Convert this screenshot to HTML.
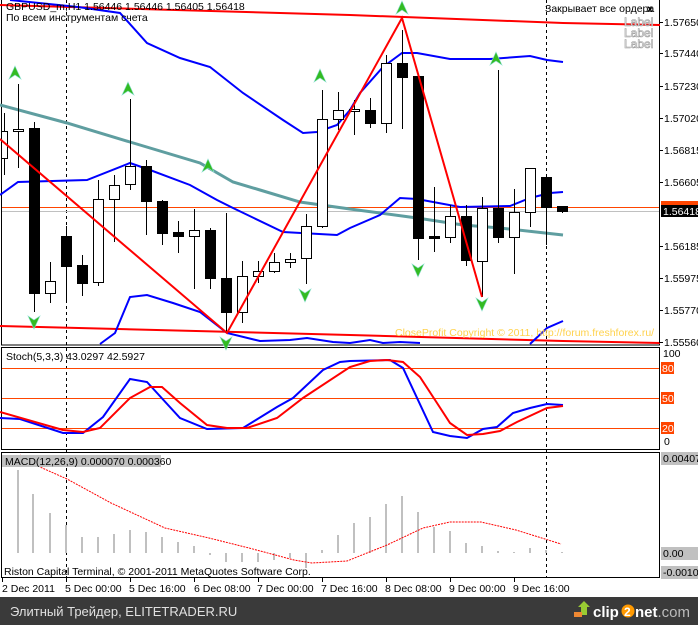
<!DOCTYPE html>
<html><head><meta charset="utf-8"><style>
html,body{margin:0;padding:0;background:#fff;}
svg{display:block;}
text{font-family:"Liberation Sans","DejaVu Sans",sans-serif;font-size:10.5px;}
</style></head><body>
<svg width="698" height="625" viewBox="0 0 698 625" xmlns="http://www.w3.org/2000/svg">
<rect x="0" y="0" width="698" height="625" fill="#fff"/>
<g fill="none" stroke="#000" stroke-width="1" shape-rendering="crispEdges">
<rect x="1.5" y="-1" width="658" height="346"/>
<rect x="1.5" y="347.5" width="658" height="102"/>
<rect x="1.5" y="452.5" width="658" height="125"/>
</g>
<g stroke="#000" stroke-dasharray="3,3" shape-rendering="crispEdges">
<line x1="66.5" y1="0" x2="66.5" y2="578"/>
<line x1="546.5" y1="0" x2="546.5" y2="578"/>
</g>
<line x1="2" y1="207.5" x2="659" y2="207.5" stroke="#ff4500" shape-rendering="crispEdges"/>
<line x1="2" y1="211.5" x2="659" y2="211.5" stroke="#c0c0c0" shape-rendering="crispEdges"/>

<polyline points="0,5 350,15 563,23 660,25" fill="none" stroke="#f00" stroke-width="2"/>
<polyline points="0,326 350,335 563,341 660,343" fill="none" stroke="#f00" stroke-width="2"/>

<polyline points="0,105 67,123 130,142 200,163 233,182 260,190 300,202 350,209 417,218 463,225 500,228 563,235" fill="none" stroke="#5f9ea0" stroke-width="3"/>

<polyline points="10,0 78,7 120,13 147,43 180,58 210,67 243,93 283,120 303,133 317,132 337,125 350,110 360,93 383,67 402,53 417,53 450,59 490,59 530,56 547,60 563,62" fill="none" stroke="#00f" stroke-width="2"/>
<polyline points="0,195 18,182 87,180 130,163 150,170 190,185 217,200 233,208 283,232 337,235 350,228 380,215 400,198 417,199 460,207 510,206 530,198 550,193 563,192" fill="none" stroke="#00f" stroke-width="2"/>
<polyline points="100,344 115,333 130,297 147,295 173,303 200,312 227,333 260,341 290,340 307,338 333,342 350,343 370,340 383,343 400,342 420,343" fill="none" stroke="#00f" stroke-width="2"/>
<polyline points="530,344 547,328 563,321" fill="none" stroke="#00f" stroke-width="2"/>

<g shape-rendering="crispEdges" stroke="#000" stroke-width="1">
<line x1="4.5" y1="113" x2="4.5" y2="175"/><rect x="1.5" y="131.5" width="6" height="27" fill="#fff"/>
<line x1="18.5" y1="84" x2="18.5" y2="168"/><rect x="13.5" y="129.5" width="10" height="2" fill="#fff"/>
<line x1="34.5" y1="122" x2="34.5" y2="312"/><rect x="29.5" y="128.5" width="10" height="165" fill="#000"/>
<line x1="50.5" y1="262" x2="50.5" y2="303"/><rect x="45.5" y="281.5" width="10" height="12" fill="#fff"/>
<line x1="66.5" y1="226" x2="66.5" y2="301"/><rect x="61.5" y="236.5" width="10" height="30" fill="#000"/>
<line x1="82.5" y1="255" x2="82.5" y2="296"/><rect x="77.5" y="265.5" width="10" height="18" fill="#000"/>
<line x1="98.5" y1="180" x2="98.5" y2="286"/><rect x="93.5" y="199.5" width="10" height="83" fill="#fff"/>
<line x1="114.5" y1="175" x2="114.5" y2="242"/><rect x="109.5" y="185.5" width="10" height="14" fill="#fff"/>
<line x1="130.5" y1="99" x2="130.5" y2="190"/><rect x="125.5" y="166.5" width="10" height="18" fill="#fff"/>
<line x1="146.5" y1="160" x2="146.5" y2="235"/><rect x="141.5" y="166.5" width="10" height="35" fill="#000"/>
<line x1="162.5" y1="200" x2="162.5" y2="245"/><rect x="157.5" y="201.5" width="10" height="32" fill="#000"/>
<line x1="178.5" y1="221" x2="178.5" y2="253"/><rect x="173.5" y="232.5" width="10" height="4" fill="#000"/>
<line x1="194.5" y1="209" x2="194.5" y2="289"/><rect x="189.5" y="230.5" width="10" height="6" fill="#fff"/>
<line x1="210.5" y1="228" x2="210.5" y2="289"/><rect x="205.5" y="230.5" width="10" height="48" fill="#000"/>
<line x1="226.5" y1="213" x2="226.5" y2="332"/><rect x="221.5" y="278.5" width="10" height="34" fill="#000"/>
<line x1="242.5" y1="261" x2="242.5" y2="323"/><rect x="237.5" y="276.5" width="10" height="36" fill="#fff"/>
<line x1="258.5" y1="261" x2="258.5" y2="283"/><rect x="253.5" y="271.5" width="10" height="5" fill="#fff"/>
<line x1="274.5" y1="253" x2="274.5" y2="273"/><rect x="269.5" y="262.5" width="10" height="9" fill="#fff"/>
<line x1="290.5" y1="253" x2="290.5" y2="268"/><rect x="285.5" y="259.5" width="10" height="3" fill="#fff"/>
<line x1="306.5" y1="214" x2="306.5" y2="284"/><rect x="301.5" y="226.5" width="10" height="32" fill="#fff"/>
<line x1="322.5" y1="90" x2="322.5" y2="228"/><rect x="317.5" y="119.5" width="10" height="107" fill="#fff"/>
<line x1="338.5" y1="92" x2="338.5" y2="130"/><rect x="333.5" y="110.5" width="10" height="9" fill="#fff"/>
<line x1="354.5" y1="100" x2="354.5" y2="135"/><rect x="349.5" y="109.5" width="10" height="2" fill="#fff"/>
<line x1="370.5" y1="98" x2="370.5" y2="128"/><rect x="365.5" y="110.5" width="10" height="13" fill="#000"/>
<line x1="386.5" y1="55" x2="386.5" y2="133"/><rect x="381.5" y="63.5" width="10" height="60" fill="#fff"/>
<line x1="402.5" y1="30" x2="402.5" y2="129"/><rect x="397.5" y="63.5" width="10" height="14" fill="#000"/>
<line x1="418.5" y1="76" x2="418.5" y2="260"/><rect x="413.5" y="76.5" width="10" height="162" fill="#000"/>
<line x1="434.5" y1="187" x2="434.5" y2="252"/><rect x="429.5" y="236.5" width="10" height="2" fill="#000"/>
<line x1="450.5" y1="205" x2="450.5" y2="243"/><rect x="445.5" y="216.5" width="10" height="21" fill="#fff"/>
<line x1="466.5" y1="205" x2="466.5" y2="266"/><rect x="461.5" y="216.5" width="10" height="44" fill="#000"/>
<line x1="482.5" y1="197" x2="482.5" y2="297"/><rect x="477.5" y="208.5" width="10" height="53" fill="#fff"/>
<line x1="498.5" y1="70" x2="498.5" y2="243"/><rect x="493.5" y="208.5" width="10" height="29" fill="#000"/>
<line x1="514.5" y1="189" x2="514.5" y2="274"/><rect x="509.5" y="212.5" width="10" height="25" fill="#fff"/>
<line x1="530.5" y1="168" x2="530.5" y2="227"/><rect x="525.5" y="168.5" width="10" height="44" fill="#fff"/>
<line x1="546.5" y1="177" x2="546.5" y2="245"/><rect x="541.5" y="177.5" width="10" height="30" fill="#000"/>
<line x1="562.5" y1="206" x2="562.5" y2="213"/><rect x="557.5" y="206.5" width="10" height="5" fill="#000"/>
</g>

<polyline points="0,139 227,333 402,18 482,297" fill="none" stroke="#f00" stroke-width="2"/>

<g fill="#33bb22" stroke="#88ddcc" stroke-width="0.6">
<path d="M15,66 l6,13 l-6,-4 l-6,4z"/>
<path d="M128,82 l6,13 l-6,-4 l-6,4z"/>
<path d="M208,159 l6,13 l-6,-4 l-6,4z"/>
<path d="M320,69 l6,13 l-6,-4 l-6,4z"/>
<path d="M402,1 l6,13 l-6,-4 l-6,4z"/>
<path d="M496,52 l6,13 l-6,-4 l-6,4z"/>
<path d="M34,329 l6,-13 l-6,4 l-6,-4z"/>
<path d="M226,350 l6,-13 l-6,4 l-6,-4z"/>
<path d="M305,302 l6,-13 l-6,4 l-6,-4z"/>
<path d="M418,277 l6,-13 l-6,4 l-6,-4z"/>
<path d="M482,311 l6,-13 l-6,4 l-6,-4z"/>
</g>

<text x="6" y="10">GBPUSD_m,H1  1.56446 1.56446 1.56405 1.56418</text>
<text x="6" y="21">По всем инструментам счета</text>
<text x="545" y="12">Закрывает все ордера</text>
<text x="647" y="12" font-weight="bold">x</text>
<g fill="#fff" stroke="#999" stroke-width="0.6"><text x="624" y="26" style="font-size:12px">Label</text><text x="624" y="37" style="font-size:12px">Label</text><text x="624" y="48" style="font-size:12px">Label</text></g>
<text x="395" y="336" fill="#ffd24d">CloseProfit Copyright © 2011, http://forum.freshforex.ru/</text>

<g shape-rendering="crispEdges" stroke="#000"><line x1="659" y1="22.5" x2="663" y2="22.5"/><line x1="659" y1="53.5" x2="663" y2="53.5"/><line x1="659" y1="86.5" x2="663" y2="86.5"/><line x1="659" y1="118.5" x2="663" y2="118.5"/><line x1="659" y1="150.5" x2="663" y2="150.5"/><line x1="659" y1="182.5" x2="663" y2="182.5"/><line x1="659" y1="246.5" x2="663" y2="246.5"/><line x1="659" y1="278.5" x2="663" y2="278.5"/><line x1="659" y1="310.5" x2="663" y2="310.5"/><line x1="659" y1="342.5" x2="663" y2="342.5"/></g>
<g>
<text x="664" y="26">1.57650</text><text x="664" y="57">1.57440</text><text x="664" y="90">1.57230</text><text x="664" y="122">1.57020</text><text x="664" y="154">1.56815</text><text x="664" y="186">1.56605</text><text x="664" y="250">1.56185</text><text x="664" y="282">1.55975</text><text x="664" y="314">1.55770</text><text x="664" y="346">1.55560</text>
</g>
<rect x="661" y="201" width="37" height="7" fill="#ff4500"/>
<rect x="661" y="205" width="37" height="12" fill="#000"/>
<text x="663" y="215" fill="#fff">1.56418</text>

<g stroke="#ff4500" shape-rendering="crispEdges"><line x1="2" y1="368.5" x2="659" y2="368.5"/><line x1="2" y1="398.5" x2="659" y2="398.5"/><line x1="2" y1="428.5" x2="659" y2="428.5"/></g>
<polyline points="0,418 20,419 63,433 83,433 103,417 130,379 147,382 180,418 207,429 243,428 277,407 293,398 323,370 340,362 350,361 390,360 403,368 433,432 450,436 467,438 483,429 497,427 513,413 530,408 547,404 563,405" fill="none" stroke="#00f" stroke-width="2"/>
<polyline points="0,412 63,430 83,432 100,428 130,398 150,387 162,387 180,403 207,425 227,428 247,428 277,418 303,398 350,367 370,361 387,360 403,362 420,377 437,403 450,423 467,435 483,434 500,431 517,422 547,408 563,406" fill="none" stroke="#f00" stroke-width="2"/>
<text x="6" y="360">Stoch(5,3,3) 43.0297 42.5927</text>
<text x="663" y="357">100</text>
<rect x="661" y="362" width="13" height="12" fill="#ff4500"/><text x="662" y="372" fill="#fff">80</text>
<rect x="661" y="392" width="13" height="12" fill="#ff4500"/><text x="662" y="402" fill="#fff">50</text>
<rect x="661" y="422" width="13" height="12" fill="#ff4500"/><text x="662" y="432" fill="#fff">20</text>
<text x="664" y="445">0</text>

<g fill="#c0c0c0" shape-rendering="crispEdges">
<rect x="17" y="470" width="2" height="83"/><rect x="32" y="494" width="2" height="59"/><rect x="49" y="513" width="2" height="40"/><rect x="65" y="525" width="2" height="28"/><rect x="81" y="537" width="2" height="16"/><rect x="97" y="537" width="2" height="16"/><rect x="113" y="534" width="2" height="19"/><rect x="129" y="530" width="2" height="23"/><rect x="145" y="532" width="2" height="21"/><rect x="161" y="537" width="2" height="16"/><rect x="177" y="542" width="2" height="11"/><rect x="193" y="546" width="2" height="7"/>
<rect x="209" y="553" width="2" height="2"/><rect x="225" y="553" width="2" height="9"/><rect x="241" y="553" width="2" height="9"/><rect x="257" y="553" width="2" height="9"/><rect x="273" y="553" width="2" height="7"/><rect x="289" y="553" width="2" height="5"/><rect x="305" y="553" width="2" height="15"/>
<rect x="321" y="550" width="2" height="3"/><rect x="337" y="535" width="2" height="18"/><rect x="353" y="523" width="2" height="30"/><rect x="369" y="517" width="2" height="36"/><rect x="385" y="504" width="2" height="49"/><rect x="401" y="496" width="2" height="57"/><rect x="417" y="512" width="2" height="41"/><rect x="433" y="527" width="2" height="26"/><rect x="449" y="531" width="2" height="22"/><rect x="465" y="543" width="2" height="10"/><rect x="481" y="546" width="2" height="7"/><rect x="497" y="551" width="2" height="2"/><rect x="513" y="552" width="2" height="1"/><rect x="529" y="548" width="2" height="5"/><rect x="545" y="550" width="2" height="3"/><rect x="561" y="552" width="2" height="1"/>
</g>
<polyline points="20,455 40,467 67,479 111,503 165,528 209,538 249,548 294,560 312,563 347,561 387,545 423,528 450,522 481,522 516,530 561,544" fill="none" stroke="#f00" stroke-width="1" stroke-dasharray="2,1"/>
<rect x="2" y="455" width="159" height="12" fill="#c0c0c0"/>
<text x="5" y="465">MACD(12,26,9) 0.000070 0.000360</text>
<text x="4" y="575">Riston Capital Terminal, © 2001-2011 MetaQuotes Software Corp.</text>
<rect x="661" y="452" width="37" height="13" fill="#c0c0c0"/><text x="663" y="462">0.004074</text>
<rect x="661" y="547" width="37" height="13" fill="#c0c0c0"/><text x="663" y="557">0.00</text>
<rect x="661" y="566" width="37" height="13" fill="#c0c0c0"/><text x="663" y="576">-0.00103</text>

<g shape-rendering="crispEdges" stroke="#000"><line x1="2.5" y1="578" x2="2.5" y2="582"/><line x1="66.5" y1="578" x2="66.5" y2="582"/><line x1="130.5" y1="578" x2="130.5" y2="582"/><line x1="194.5" y1="578" x2="194.5" y2="582"/><line x1="258.5" y1="578" x2="258.5" y2="582"/><line x1="322.5" y1="578" x2="322.5" y2="582"/><line x1="386.5" y1="578" x2="386.5" y2="582"/><line x1="450.5" y1="578" x2="450.5" y2="582"/><line x1="514.5" y1="578" x2="514.5" y2="582"/></g>
<text x="2" y="592">2 Dec 2011</text><text x="65" y="592">5 Dec 00:00</text><text x="129" y="592">5 Dec 16:00</text><text x="194" y="592">6 Dec 08:00</text><text x="257" y="592">7 Dec 00:00</text><text x="321" y="592">7 Dec 16:00</text><text x="385" y="592">8 Dec 08:00</text><text x="449" y="592">9 Dec 00:00</text><text x="513" y="592">9 Dec 16:00</text>

<rect x="0" y="597" width="698" height="28" fill="#3a3a3a"/>
<text x="10" y="616" fill="#e0e0e0" style="font-size:13px">Элитный Трейдер, ELITETRADER.RU</text>
<path d="M578,607 l6,-6 l6,6 h-3 v8 h-6 v-8z" fill="#9c3"/>
<rect x="574" y="612" width="8" height="5" fill="#e83"/>
<text x="593" y="617" fill="#fff" style="font-size:15px;font-weight:bold">clip</text>
<circle cx="628" cy="611" r="6.5" fill="#f90"/>
<text x="624" y="616" fill="#fff" style="font-size:12px;font-weight:bold">2</text>
<text x="635" y="617" fill="#fff" style="font-size:15px;font-weight:bold">net<tspan fill="#bbb" style="font-weight:normal">.com</tspan></text>
</svg>
</body></html>
